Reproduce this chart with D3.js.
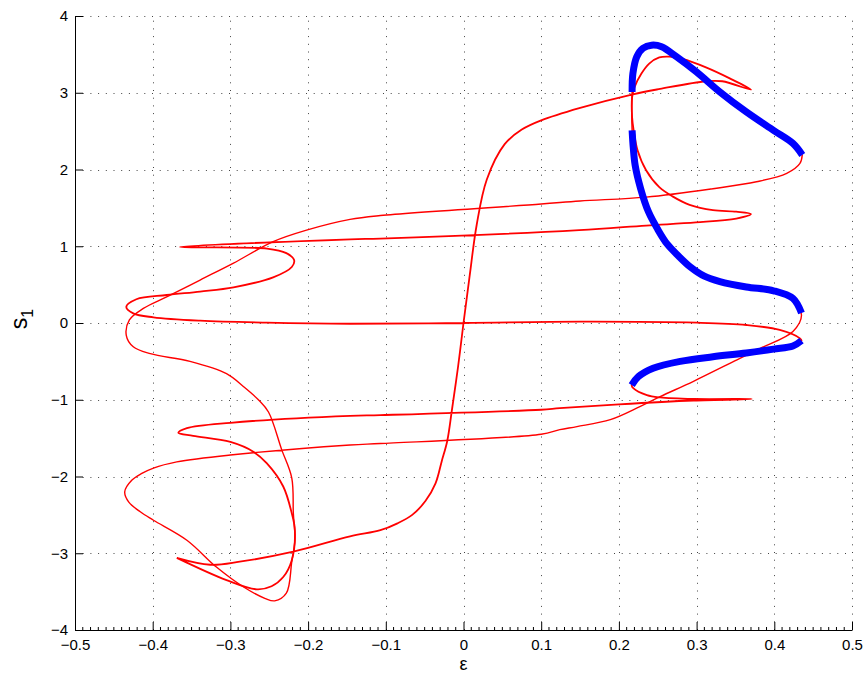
<!DOCTYPE html>
<html>
<head>
<meta charset="utf-8">
<script src="https://cdn.jsdelivr.net/npm/d3@7"></script>
<style>
  html, body { margin: 0; padding: 0; background: #fff; }
  svg { display: block; font-family: "Liberation Sans", Arial, Helvetica, sans-serif; }
</style>
</head>
<body>
<svg id="chart" width="865" height="677"></svg>
<script>
// ---------------- data ----------------
const xTicks = [-0.5, -0.4, -0.3, -0.2, -0.1, 0, 0.1, 0.2, 0.3, 0.4, 0.5];
const xTickLabels = ["\u22120.5", "\u22120.4", "\u22120.3", "\u22120.2", "\u22120.1", "0", "0.1", "0.2", "0.3", "0.4", "0.5"];
const yTicks = [-4, -3, -2, -1, 0, 1, 2, 3, 4];
const yTickLabels = ["\u22124", "\u22123", "\u22122", "\u22121", "0", "1", "2", "3", "4"];

// first (outer) red loop
const loop1Eps = [-0.369,-0.326,-0.288,-0.219,-0.146,-0.107,-0.085,-0.066,-0.049,-0.036,-0.028,-0.021,-0.015,-0.007,0.000,0.008,0.017,0.030,0.053,0.075,0.100,0.149,0.218,0.253,0.312,0.333,0.370,
  0.342,0.312,0.282,0.265,0.252,0.239,0.229,0.220,0.217,0.217,0.219,0.224,0.235,0.252,0.269,0.291,0.321,0.351,0.370,
  0.351,0.299,0.235,0.149,-0.107,-0.146,-0.365,
  -0.253,-0.228,-0.218,-0.221,-0.245,-0.296,-0.339,-0.382,-0.421,-0.434,-0.425,-0.399,-0.339,-0.253,-0.146,0.000,0.150,0.300,0.364,0.407,0.433,
  0.435,0.424,0.399,0.364,0.321,0.279,0.244,0.225,0.2165,
  0.2185,0.236,0.253,0.296,0.371,
  0.296,0.200,0.124,0.100,-0.107,-0.146,-0.300,-0.356,-0.367,
  -0.348,-0.300,-0.270,-0.253,-0.232,-0.221,-0.217,-0.221,-0.232,-0.247,-0.266,-0.305,-0.369];
const loop1S = [-3.06,-3.15,-3.11,-2.98,-2.78,-2.70,-2.61,-2.50,-2.32,-2.09,-1.80,-1.54,-1.14,-0.57,0.00,0.62,1.28,1.87,2.33,2.52,2.64,2.80,2.98,3.05,3.15,3.15,3.04,
  3.19,3.33,3.44,3.47,3.46,3.38,3.25,3.07,2.94,2.68,2.51,2.25,1.99,1.77,1.65,1.54,1.47,1.45,1.42,
  1.36,1.31,1.27,1.21,1.10,1.09,0.99,
  0.97,0.91,0.82,0.73,0.595,0.465,0.41,0.365,0.31,0.21,0.126,0.074,0.03,0.004,-0.01,0.00,0.017,0.004,-0.026,-0.09,-0.20,
  -0.23,-0.30,-0.34,-0.39,-0.44,-0.50,-0.59,-0.70,-0.81,
  -0.85,-0.94,-0.97,-0.99,-0.99,
  -1.01,-1.06,-1.11,-1.13,-1.20,-1.21,-1.30,-1.37,-1.43,
  -1.47,-1.55,-1.68,-1.83,-2.13,-2.48,-2.70,-3.09,-3.31,-3.43,-3.47,-3.35,-3.06];

// second red loop (the part not covered by the blue branch)
const loop2Eps = [0.436,0.433,0.416,0.377,0.321,0.235,0.150,0.100,-0.107,-0.146,-0.202,-0.245,-0.296,-0.339,-0.382,-0.412,-0.430,-0.434,-0.425,-0.403,-0.352,-0.305,-0.283,-0.264,-0.251,-0.234,-0.221,-0.219,-0.217,-0.221,-0.228,-0.243,-0.255,-0.283,-0.318,-0.356,-0.399,-0.416,-0.431,-0.436,-0.427,-0.414,-0.399,-0.369,-0.300,-0.146,-0.107,0.100,0.124,0.146,0.189,0.227,0.253,0.296,0.352,0.382,0.424,0.435];
const loop2S = [2.19,2.08,1.95,1.84,1.75,1.64,1.59,1.55,1.40,1.35,1.21,1.06,0.78,0.56,0.34,0.19,0.04,-0.16,-0.31,-0.40,-0.50,-0.66,-0.83,-1.00,-1.16,-1.65,-2.02,-2.48,-2.83,-3.11,-3.52,-3.62,-3.59,-3.44,-3.18,-2.83,-2.57,-2.46,-2.33,-2.20,-2.05,-1.96,-1.89,-1.81,-1.72,-1.59,-1.57,-1.45,-1.39,-1.35,-1.26,-1.09,-0.96,-0.76,-0.48,-0.33,-0.11,0.10];
// short red link between the two upper blue pieces
const gapEps = [0.217, 0.2165, 0.217];
const gapS = [2.51, 2.75, 3.01];

// blue (thick) branches
const blue1Eps = [0.2165,0.225,0.244,0.279,0.321,0.364,0.399,0.424,0.435];
const blue1S = [-0.81,-0.70,-0.59,-0.50,-0.44,-0.39,-0.34,-0.30,-0.23];
const blue2Eps = [0.435,0.424,0.399,0.364,0.330,0.310,0.292,0.276,0.262,0.250,0.238,0.228,0.221,0.2185,0.217];
const blue2S = [0.13,0.32,0.42,0.47,0.54,0.61,0.73,0.88,1.03,1.22,1.45,1.75,2.05,2.28,2.51];
const blue3Eps = [0.217,0.218,0.223,0.231,0.242,0.255,0.274,0.300,0.330,0.364,0.399,0.424,0.436];
const blue3S = [3.01,3.25,3.47,3.58,3.62,3.60,3.47,3.27,3.01,2.75,2.51,2.34,2.19];

// ---------------- drawing ----------------
const svg = d3.select("#chart");
const L = 75, R = 852, T = 16, B = 630;
const x = d3.scaleLinear().domain([-0.5, 0.5]).range([L, R]);
const y = d3.scaleLinear().domain([-4, 4]).range([B, T]);

const zip = (a, b) => a.map((v, i) => [v, b[i]]);
const line = d3.line().x(d => x(d[0])).y(d => y(d[1])).curve(d3.curveCatmullRom.alpha(0.5));

// grid
const grid = svg.append("g").attr("stroke", "#444").attr("stroke-width", 1).attr("stroke-dasharray", "1,6.7");
grid.selectAll("line.v").data(xTicks.slice(1)).join("line")
  .attr("x1", d => Math.round(x(d)) + 0.5).attr("x2", d => Math.round(x(d)) + 0.5)
  .attr("y1", B).attr("y2", T);
grid.selectAll("line.h").data(yTicks.slice(1)).join("line")
  .attr("y1", d => Math.round(y(d)) + 0.5).attr("y2", d => Math.round(y(d)) + 0.5)
  .attr("x1", L).attr("x2", R);

// red curves
const red = svg.append("g").attr("fill", "none").attr("stroke", "#ff0000").attr("stroke-linejoin", "round");
red.append("path").attr("d", line(zip(loop1Eps, loop1S))).attr("stroke-width", 1.8);
const loop2Full = zip(loop2Eps, loop2S)
  .concat(zip(blue2Eps, blue2S).slice(1))
  .concat(zip(gapEps, gapS).slice(1))
  .concat(zip(blue3Eps, blue3S).slice(1));
red.append("path").attr("d", line(loop2Full)).attr("stroke-width", 1.4);

// blue branches
const blue = svg.append("g").attr("fill", "none").attr("stroke", "#0000ff").attr("stroke-width", 7).attr("stroke-linejoin", "round");
[[blue1Eps, blue1S], [blue2Eps, blue2S], [blue3Eps, blue3S]].forEach(([a, b]) => {
  blue.append("path").attr("d", line(zip(a, b)));
});

// axes
const xAxis = d3.axisBottom(x).tickValues(xTicks).tickFormat((d, i) => xTickLabels[i]).tickSizeInner(-8).tickSizeOuter(0).tickPadding(9);
const yAxis = d3.axisLeft(y).tickValues(yTicks).tickFormat((d, i) => yTickLabels[i]).tickSizeInner(-8).tickSizeOuter(0).tickPadding(7);

const gx = svg.append("g").attr("transform", `translate(0,${B})`).call(xAxis);
const gy = svg.append("g").attr("transform", `translate(${L},0)`).call(yAxis);
[gx, gy].forEach(g => {
  g.select(".domain").attr("stroke", "#000").attr("stroke-width", 1);
  g.selectAll(".tick line").attr("stroke", "#000");
  g.selectAll(".tick text").attr("fill", "#000").attr("font-size", 15).attr("font-family", "Liberation Sans, Arial, sans-serif");
});

// minor ticks on x axis
const minor = d3.range(-50, 51).map(v => v / 100).filter(v => Math.abs(Math.round(v * 10) - v * 10) > 1e-6);
svg.append("g").selectAll("line").data(minor).join("line")
  .attr("x1", d => x(d)).attr("x2", d => x(d)).attr("y1", B).attr("y2", B - 3)
  .attr("stroke", "#000").attr("stroke-width", 1);

// axis labels
svg.append("text").attr("x", x(0)).attr("y", 670).attr("text-anchor", "middle")
  .attr("font-size", 18).attr("fill", "#000").text("\u03b5");
const yl = svg.append("text").attr("transform", `translate(27,${y(0) - 4}) rotate(-90)`).attr("text-anchor", "middle")
  .attr("font-size", 23).attr("fill", "#000");
yl.append("tspan").text("s");
yl.append("tspan").attr("font-size", 16).attr("dy", 6).text("1");
</script>
</body>
</html>
